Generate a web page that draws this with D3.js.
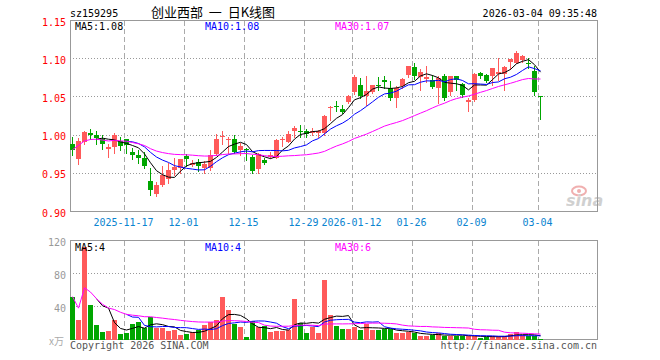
<!DOCTYPE html>
<html>
<head>
<meta charset="utf-8">
<script src="https://cdn.jsdelivr.net/npm/d3@7"></script>
<style>
  body { margin: 0; background: #fff; }
  svg text { font-family: "DejaVu Sans Mono", monospace; font-size: 10px; }
</style>
</head>
<body>
<svg id="chart" width="660" height="360"></svg>
<script>
// trading days shown on the chart
const dates = [
  "2025-11-04","2025-11-05","2025-11-06","2025-11-07","2025-11-10","2025-11-11","2025-11-12","2025-11-13","2025-11-14",
  "2025-11-17","2025-11-18","2025-11-19","2025-11-20","2025-11-21","2025-11-24","2025-11-25","2025-11-26","2025-11-27","2025-11-28",
  "2025-12-01","2025-12-02","2025-12-03","2025-12-04","2025-12-05","2025-12-08","2025-12-09","2025-12-10","2025-12-11","2025-12-12",
  "2025-12-15","2025-12-16","2025-12-17","2025-12-18","2025-12-19","2025-12-22","2025-12-23","2025-12-24","2025-12-25","2025-12-26",
  "2025-12-29","2025-12-30","2025-12-31","2026-01-05","2026-01-06","2026-01-07","2026-01-08","2026-01-09",
  "2026-01-12","2026-01-13","2026-01-14","2026-01-15","2026-01-16","2026-01-19","2026-01-20","2026-01-21","2026-01-22","2026-01-23",
  "2026-01-26","2026-01-27","2026-01-28","2026-01-29","2026-01-30","2026-02-02","2026-02-03","2026-02-04","2026-02-05","2026-02-06",
  "2026-02-09","2026-02-10","2026-02-11","2026-02-12","2026-02-13","2026-02-24","2026-02-25","2026-02-26","2026-02-27",
  "2026-03-02","2026-03-03","2026-03-04"
];

const opens = [
  0.989,0.969,0.991,1.003,1.000,0.995,0.982,0.985,0.992,0.995,
  0.978,0.974,0.970,0.940,0.923,0.935,0.943,0.954,0.957,0.972,
  0.961,0.965,0.957,0.957,0.975,0.997,0.994,0.995,0.981,0.982,
  0.971,0.956,0.968,0.971,0.970,0.993,0.991,1.006,1.005,1.005,
  1.003,1.003,1.003,1.035,1.038,1.034,1.043,1.056,1.066,1.051,
  1.057,1.066,1.072,1.062,1.048,1.064,1.079,1.089,1.076,1.073,
  1.072,1.062,1.078,1.057,1.078,1.067,1.043,1.046,1.081,1.079,
  1.078,1.080,1.080,1.096,1.095,1.098,1.095,1.084,1.051
];
const highs = [
  0.997,0.996,1.005,1.008,1.006,1.000,0.989,1.003,0.997,0.995,
  0.983,0.981,0.978,0.957,0.939,0.960,0.964,0.970,0.969,0.975,
  0.968,0.969,0.966,0.981,1.002,1.006,0.998,1.000,0.990,0.983,
  0.974,0.977,0.970,0.978,0.995,0.997,1.005,1.012,1.013,1.008,
  1.009,1.007,1.026,1.038,1.044,1.039,1.053,1.079,1.075,1.078,
  1.066,1.076,1.078,1.071,1.064,1.075,1.091,1.094,1.086,1.091,
  1.079,1.077,1.080,1.078,1.078,1.068,1.049,1.081,1.082,1.080,
  1.088,1.101,1.090,1.100,1.110,1.105,1.101,1.090,1.051
];
const lows = [
  0.974,0.962,0.989,0.995,0.988,0.982,0.971,0.977,0.981,0.977,
  0.969,0.963,0.957,0.922,0.920,0.933,0.937,0.948,0.950,0.960,
  0.959,0.953,0.950,0.954,0.974,0.989,0.976,0.976,0.974,0.968,
  0.950,0.950,0.962,0.970,0.970,0.986,0.991,0.997,0.997,0.997,
  1.000,0.998,1.000,1.020,1.031,1.029,1.042,1.054,1.049,1.040,
  1.055,1.059,1.062,1.046,1.037,1.062,1.076,1.074,1.059,1.069,
  1.061,1.042,1.046,1.053,1.059,1.050,1.032,1.045,1.075,1.069,
  1.066,1.072,1.059,1.086,1.095,1.096,1.088,1.053,1.021
];
const closes = [
  0.981,0.992,1.004,1.000,0.996,0.988,0.985,1.000,0.986,0.987,
  0.974,0.970,0.960,0.928,0.935,0.948,0.954,0.958,0.969,0.969,
  0.964,0.959,0.962,0.974,0.995,0.999,0.995,0.978,0.986,0.980,
  0.953,0.975,0.964,0.974,0.994,0.995,1.002,1.009,1.004,1.002,
  1.006,1.005,1.025,1.037,1.037,1.030,1.051,1.076,1.051,1.058,
  1.065,1.065,1.069,1.048,1.062,1.074,1.090,1.078,1.083,1.076,
  1.063,1.075,1.048,1.078,1.072,1.052,1.046,1.080,1.078,1.071,
  1.088,1.083,1.089,1.099,1.108,1.104,1.094,1.056,1.050
];
// volume, x万
const volumes = [
  52,24,112,42,17.5,9,10,24,6.5,8,
  19,21,14,27,14,14,10,11.5,5.5,7,
  8.5,11,18,21,24,52,36,19,15,3,
  22,15,16.7,9,10,10,11.5,49,19.6,8,
  14.8,7.9,72.3,30,16.7,13,13,15.5,11.9,18.7,
  11.9,11.9,12.7,12.7,7.9,7.9,8.7,7.9,4.6,4.6,
  5,7.9,4.6,4.6,4.6,4.6,4.6,3.8,1.8,3.5,
  3.8,3.8,4.6,6.7,8.7,5.4,3.8,3.8,1
];

const tickDates = ["2025-11-17","2025-12-01","2025-12-15","2025-12-29","2026-01-12","2026-01-26","2026-02-09","2026-03-04"];
const tickLabels = ["2025-11-17","12-01","12-15","12-29","2026-01-12","01-26","02-09","03-04"];
const priceTicks = [0.90, 0.95, 1.00, 1.05, 1.10, 1.15];
const volTicks = [40, 80, 120];
const maPeriods = [5, 10, 30];
const priceMaText = ["MA5:1.08", "MA10:1.08", "MA30:1.07"];
const volMaText = ["MA5:4", "MA10:4", "MA30:6"];

const left = 70, right = 597;
const priceTop = 20.5, priceBottom = 211.5;
const volTop = 240.5, volBottom = 339.5;
const red = "#ff5a5a", green = "#00a600";
const maColors = ["#000000", "#0000ff", "#ff00ff"];
const legendX = [75, 205, 335];
const mono = '"DejaVu Sans Mono", monospace';

const svg = d3.select("#chart");

const x = d3.scaleBand()
    .domain(dates)
    .range([left - 0.5, left - 0.5 + dates.length * 6])
    .paddingInner(1 / 6)
    .paddingOuter(1 / 12);
const bw = x.bandwidth();

const y = d3.scaleLinear().domain([0.90, 1.15]).range([priceBottom, priceTop]);
const yv = d3.scaleLinear().domain([0, 120]).range([volBottom, volTop]);

// moving average (MA30 averages what is there until it has 30 days)
function movingAvg(values, n) {
    return values.map((v, i) => {
        if (i < n - 1 && n < 30) return null;
        return d3.mean(values.slice(Math.max(0, i - n + 1), i + 1));
    });
}

const up = (i) => closes[i] >= opens[i];

// titles
svg.append("text").attr("x", 70).attr("y", 17).attr("fill", "#000").text("sz159295");
svg.append("text").attr("x", 151).attr("y", 17)
    .style("font-family", '"Noto Sans CJK SC", sans-serif').style("font-size", "13px")
    .style("white-space", "pre")
    .attr("fill", "#000").text("创业西部  一  日K线图");
svg.append("text").attr("x", 597).attr("y", 17).attr("text-anchor", "end").attr("fill", "#000")
    .text("2026-03-04 09:35:48");

// grid
function grid(top, bottom, hValues, yScale) {
    const g = svg.append("g").attr("shape-rendering", "crispEdges");
    g.selectAll(".h").data(hValues).join("line")
        .attr("x1", left).attr("x2", right)
        .attr("y1", d => Math.floor(yScale(d)) + 0.5)
        .attr("y2", d => Math.floor(yScale(d)) + 0.5)
        .attr("stroke", "#999").attr("stroke-dasharray", "1,2");
    g.selectAll(".v").data(tickDates).join("line")
        .attr("x1", d => x(d) + 0.5).attr("x2", d => x(d) + 0.5)
        .attr("y1", top).attr("y2", bottom)
        .attr("stroke", "#aaa").attr("stroke-dasharray", "5,3");
    svg.append("rect")
        .attr("x", left + 0.5).attr("y", top)
        .attr("width", right - left).attr("height", bottom - top)
        .attr("fill", "none").attr("stroke", "#999")
        .attr("shape-rendering", "crispEdges");
}
grid(priceTop, priceBottom, priceTicks.slice(1, -1), y);
grid(volTop, volBottom, [40, 80], yv);

// sina watermark
const logo = svg.append("g").attr("opacity", 0.45);
logo.append("ellipse").attr("cx", 579).attr("cy", 191).attr("rx", 7).attr("ry", 4.5)
    .attr("fill", "none").attr("stroke", "#e05050").attr("stroke-width", 2);
logo.append("circle").attr("cx", 579).attr("cy", 191).attr("r", 2).attr("fill", "#e05050");
logo.append("text").attr("x", 566).attr("y", 206)
    .style("font-family", '"DejaVu Sans", sans-serif').style("font-size", "16px")
    .style("font-style", "italic").style("font-weight", "bold")
    .attr("fill", "#999").text("sina");

// candles
const candle = svg.append("g").attr("shape-rendering", "crispEdges")
    .selectAll("g").data(dates).join("g");

candle.append("line")
    .attr("x1", d => x(d) + bw / 2).attr("x2", d => x(d) + bw / 2)
    .attr("y1", (d, i) => Math.round(y(highs[i])))
    .attr("y2", (d, i) => Math.round(y(lows[i])) + 1)
    .attr("stroke", (d, i) => up(i) ? red : green);

candle.append("rect")
    .attr("x", d => x(d))
    .attr("width", bw)
    .attr("y", (d, i) => Math.round(y(Math.max(opens[i], closes[i]))))
    .attr("height", (d, i) => Math.max(1, Math.round(y(Math.min(opens[i], closes[i]))) - Math.round(y(Math.max(opens[i], closes[i])))))
    .attr("fill", (d, i) => up(i) ? red : green);

// volume bars
svg.append("g").attr("shape-rendering", "crispEdges")
    .selectAll("rect").data(volumes).join("rect")
    .attr("x", (d, i) => x(dates[i]))
    .attr("width", bw)
    .attr("y", d => Math.round(yv(d)))
    .attr("height", d => Math.max(1, Math.round(volBottom) - Math.round(yv(d))))
    .attr("fill", (d, i) => up(i) ? red : green);

// moving average lines
function maLines(values, yScale) {
    maPeriods.forEach((n, k) => {
        const ma = movingAvg(values, n);
        const line = d3.line()
            .defined(d => d != null)
            .x((d, i) => x(dates[i]) + bw / 2)
            .y(d => yScale(d));
        svg.append("path")
            .attr("d", line(ma))
            .attr("fill", "none")
            .attr("stroke", maColors[k])
            .attr("stroke-width", 1);
    });
}
maLines(closes, y);
maLines(volumes, yv);

// legends
svg.append("g").selectAll("text").data(priceMaText).join("text")
    .attr("x", (d, i) => legendX[i]).attr("y", 30)
    .attr("fill", (d, i) => maColors[i]).text(d => d);
svg.append("g").selectAll("text").data(volMaText).join("text")
    .attr("x", (d, i) => legendX[i]).attr("y", 250.5)
    .attr("fill", (d, i) => maColors[i]).text(d => d);

// axes
const yAxis = d3.axisLeft(y).tickValues(priceTicks).tickFormat(d3.format(".2f")).tickSize(0).tickPadding(4);
svg.append("g")
    .attr("transform", `translate(${left},0)`)
    .call(yAxis)
    .call(g => g.select(".domain").remove())
    .attr("font-family", mono).attr("font-size", 10)
    .selectAll("text").attr("fill", "#f00").attr("dy", "0.45em");

const xAxis = d3.axisBottom(x).tickValues(tickDates).tickFormat((d, i) => tickLabels[i]).tickSize(0).tickPadding(7.5);
svg.append("g")
    .attr("transform", `translate(0,${priceBottom})`)
    .call(xAxis)
    .call(g => g.select(".domain").remove())
    .attr("font-family", mono).attr("font-size", 10)
    .selectAll("text").attr("fill", "#0a84d0").attr("dx", -3);

const vAxis = d3.axisLeft(yv).tickValues(volTicks).tickFormat(d3.format("d")).tickSize(0).tickPadding(4);
svg.append("g")
    .attr("transform", `translate(${left},0)`)
    .call(vAxis)
    .call(g => g.select(".domain").remove())
    .attr("font-family", mono).attr("font-size", 10)
    .selectAll("text").attr("fill", "#999").attr("dy", "0.45em");

svg.append("text").attr("x", 64).attr("y", 345).attr("text-anchor", "end")
    .attr("fill", "#aaa").style("font-family", '"Noto Sans CJK SC", monospace').text("x万");

// footer
svg.append("text").attr("x", 70).attr("y", 348.5).attr("fill", "#555").text("Copyright 2026 SINA.COM");
svg.append("text").attr("x", 597).attr("y", 348.5).attr("text-anchor", "end").attr("fill", "#555")
    .text("http://finance.sina.com.cn");
</script>
</body>
</html>
